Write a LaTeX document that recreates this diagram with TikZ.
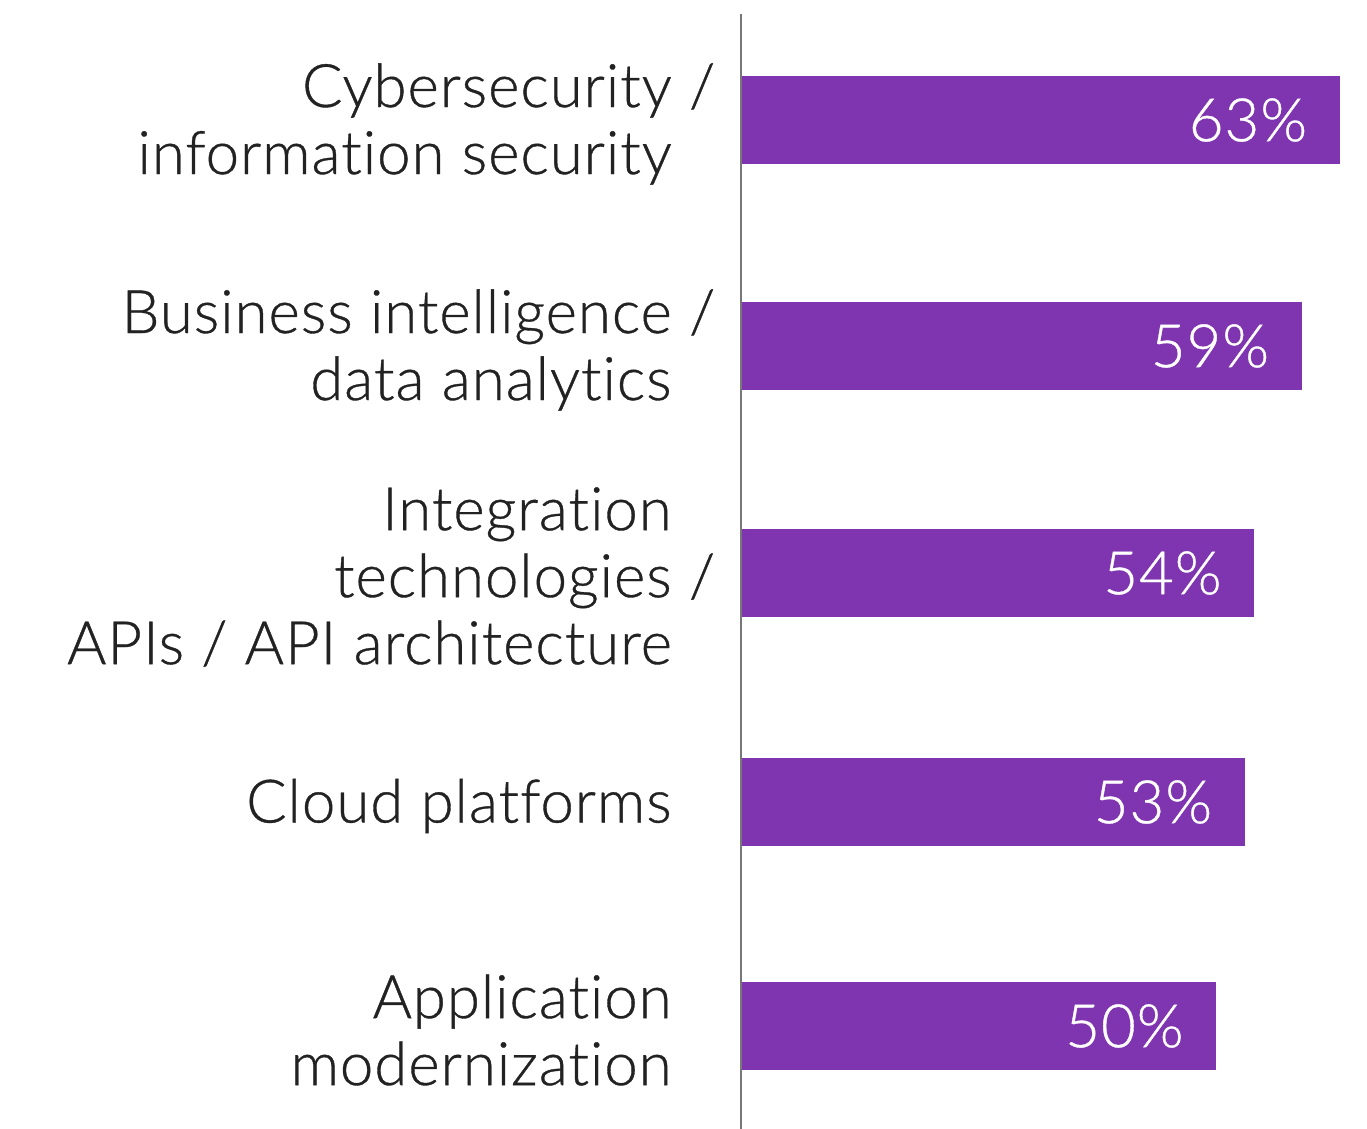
\documentclass[tikz,border=0pt]{standalone}
\usepackage{fontspec}
\setmainfont{Lato}[UprightFont=* Light,Ligatures={NoCommon,NoRare},LetterSpace=1.6,FakeBold=0.6]
\definecolor{barpurple}{HTML}{7E35AF}
\definecolor{labelgrey}{HTML}{222222}
\definecolor{axisgrey}{HTML}{777777}
\begin{document}
\begin{tikzpicture}[x=0.5pt,y=-0.5pt,
		catlabel/.style={anchor=east,align=right,text=labelgrey,inner sep=0pt,font=\fontsize{30}{33.5}\selectfont},
		pctlabel/.style={anchor=east,text=white,inner sep=0pt,font=\fontsize{30}{33.5}\selectfont}]
			\useasboundingbox (0,0) rectangle (1367,1129);
			\foreach \v/\y/\txt [count=\i] in {63/120/{Cybersecurity\rlap{ /}\\information security},
					59/346/{Business intelligence\rlap{ /}\\data analytics},
					54/573/{Integration\\technologies\rlap{ /}\\APIs / API architecture},
					53/802/{Cloud platforms},
					50/1026/{Application\\modernization}}{
				\fill [barpurple] (741,\y-44) rectangle (741+9.5*\v,\y+44);
				\node [pctlabel] (p\i) at (741+9.5*\v-32,\y) {\v\%};
				\node [catlabel] (c\i) at (672,\y+4) {\txt};
			}
			\coordinate (top) at (741,14);
			\coordinate (bottom) at (741,1129);
			\draw [axisgrey,line width=1pt] (top) -- (bottom);
		\end{tikzpicture}
\end{document}
